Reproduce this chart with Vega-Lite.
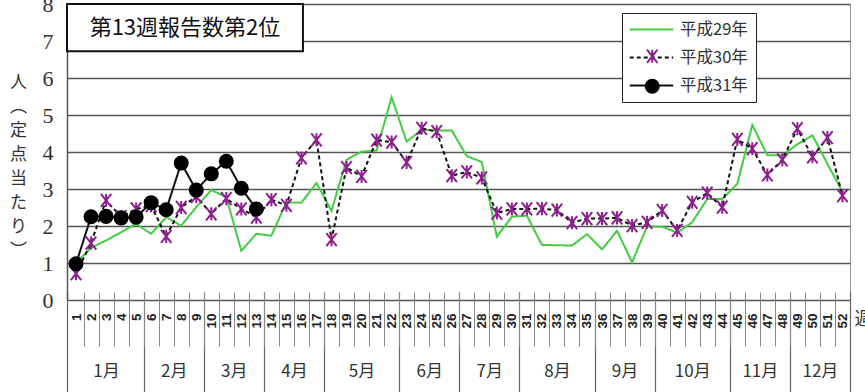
{
  "$schema": "https://vega.github.io/schema/vega-lite/v6.json",
  "width": 783,
  "height": 296,
  "autosize": "none",
  "padding": {"left": 67, "top": 4, "right": 15, "bottom": 92},
  "background": "white",
  "config": {"view": {"stroke": "#999", "strokeWidth": 1}, "font": "Noto Sans CJK JP",
    "axisY": {"values": [0,1,2,3,4,5,6,7,8], "grid": true, "gridColor": "#555", "gridWidth": 1.5, "domain": true, "domainColor": "#555", "domainWidth": 1.5, "ticks": false, "labelPadding": 14, "labelFont": "Liberation Sans Narrow", "labelFontSize": 22, "labelColor": "#333", "labelOverlap": false, "titleAngle": 0, "titleFont": "Noto Sans CJK JP", "titleFontSize": 17, "titleFontWeight": "normal", "titleColor": "#333", "titleLineHeight": 24, "titleX": -49, "titleY": 70, "titleAlign": "center", "titleBaseline": "top"}},
  "data": {"values": [
    {"week": 1, "year": "平成29年", "value": 1.0}, {"week": 2, "year": "平成29年", "value": 1.41}, {"week": 3, "year": "平成29年", "value": 1.61}, {"week": 4, "year": "平成29年", "value": 1.83}, {"week": 5, "year": "平成29年", "value": 2.06}, {"week": 6, "year": "平成29年", "value": 1.79}, {"week": 7, "year": "平成29年", "value": 2.24}, {"week": 8, "year": "平成29年", "value": 2.01}, {"week": 9, "year": "平成29年", "value": 2.51}, {"week": 10, "year": "平成29年", "value": 2.97}, {"week": 11, "year": "平成29年", "value": 2.78}, {"week": 12, "year": "平成29年", "value": 1.33}, {"week": 13, "year": "平成29年", "value": 1.79}, {"week": 14, "year": "平成29年", "value": 1.74}, {"week": 15, "year": "平成29年", "value": 2.64}, {"week": 16, "year": "平成29年", "value": 2.63}, {"week": 17, "year": "平成29年", "value": 3.16}, {"week": 18, "year": "平成29年", "value": 2.41}, {"week": 19, "year": "平成29年", "value": 3.79}, {"week": 20, "year": "平成29年", "value": 4.01}, {"week": 21, "year": "平成29年", "value": 4.04}, {"week": 22, "year": "平成29年", "value": 5.48}, {"week": 23, "year": "平成29年", "value": 4.28}, {"week": 24, "year": "平成29年", "value": 4.6}, {"week": 25, "year": "平成29年", "value": 4.58}, {"week": 26, "year": "平成29年", "value": 4.58}, {"week": 27, "year": "平成29年", "value": 3.89}, {"week": 28, "year": "平成29年", "value": 3.73}, {"week": 29, "year": "平成29年", "value": 1.71}, {"week": 30, "year": "平成29年", "value": 2.25}, {"week": 31, "year": "平成29年", "value": 2.28}, {"week": 32, "year": "平成29年", "value": 1.49}, {"week": 33, "year": "平成29年", "value": 1.48}, {"week": 34, "year": "平成29年", "value": 1.47}, {"week": 35, "year": "平成29年", "value": 1.78}, {"week": 36, "year": "平成29年", "value": 1.37}, {"week": 37, "year": "平成29年", "value": 1.87}, {"week": 38, "year": "平成29年", "value": 1.02}, {"week": 39, "year": "平成29年", "value": 1.99}, {"week": 40, "year": "平成29年", "value": 1.98}, {"week": 41, "year": "平成29年", "value": 1.82}, {"week": 42, "year": "平成29年", "value": 2.1}, {"week": 43, "year": "平成29年", "value": 2.73}, {"week": 44, "year": "平成29年", "value": 2.73}, {"week": 45, "year": "平成29年", "value": 3.14}, {"week": 46, "year": "平成29年", "value": 4.73}, {"week": 47, "year": "平成29年", "value": 3.91}, {"week": 48, "year": "平成29年", "value": 3.91}, {"week": 49, "year": "平成29年", "value": 4.21}, {"week": 50, "year": "平成29年", "value": 4.45}, {"week": 51, "year": "平成29年", "value": 3.68}, {"week": 52, "year": "平成29年", "value": 2.92},
    {"week": 1, "year": "平成30年", "value": 0.71}, {"week": 2, "year": "平成30年", "value": 1.54}, {"week": 3, "year": "平成30年", "value": 2.69}, {"week": 4, "year": "平成30年", "value": 2.25}, {"week": 5, "year": "平成30年", "value": 2.46}, {"week": 6, "year": "平成30年", "value": 2.55}, {"week": 7, "year": "平成30年", "value": 1.72}, {"week": 8, "year": "平成30年", "value": 2.5}, {"week": 9, "year": "平成30年", "value": 2.8}, {"week": 10, "year": "平成30年", "value": 2.33}, {"week": 11, "year": "平成30年", "value": 2.74}, {"week": 12, "year": "平成30年", "value": 2.46}, {"week": 13, "year": "平成30年", "value": 2.24}, {"week": 14, "year": "平成30年", "value": 2.71}, {"week": 15, "year": "平成30年", "value": 2.56}, {"week": 16, "year": "平成30年", "value": 3.84}, {"week": 17, "year": "平成30年", "value": 4.33}, {"week": 18, "year": "平成30年", "value": 1.63}, {"week": 19, "year": "平成30年", "value": 3.58}, {"week": 20, "year": "平成30年", "value": 3.34}, {"week": 21, "year": "平成30年", "value": 4.32}, {"week": 22, "year": "平成30年", "value": 4.27}, {"week": 23, "year": "平成30年", "value": 3.72}, {"week": 24, "year": "平成30年", "value": 4.64}, {"week": 25, "year": "平成30年", "value": 4.55}, {"week": 26, "year": "平成30年", "value": 3.36}, {"week": 27, "year": "平成30年", "value": 3.46}, {"week": 28, "year": "平成30年", "value": 3.3}, {"week": 29, "year": "平成30年", "value": 2.35}, {"week": 30, "year": "平成30年", "value": 2.46}, {"week": 31, "year": "平成30年", "value": 2.46}, {"week": 32, "year": "平成30年", "value": 2.47}, {"week": 33, "year": "平成30年", "value": 2.43}, {"week": 34, "year": "平成30年", "value": 2.09}, {"week": 35, "year": "平成30年", "value": 2.2}, {"week": 36, "year": "平成30年", "value": 2.2}, {"week": 37, "year": "平成30年", "value": 2.22}, {"week": 38, "year": "平成30年", "value": 2.01}, {"week": 39, "year": "平成30年", "value": 2.1}, {"week": 40, "year": "平成30年", "value": 2.42}, {"week": 41, "year": "平成30年", "value": 1.88}, {"week": 42, "year": "平成30年", "value": 2.64}, {"week": 43, "year": "平成30年", "value": 2.89}, {"week": 44, "year": "平成30年", "value": 2.51}, {"week": 45, "year": "平成30年", "value": 4.34}, {"week": 46, "year": "平成30年", "value": 4.09}, {"week": 47, "year": "平成30年", "value": 3.38}, {"week": 48, "year": "平成30年", "value": 3.79}, {"week": 49, "year": "平成30年", "value": 4.63}, {"week": 50, "year": "平成30年", "value": 3.87}, {"week": 51, "year": "平成30年", "value": 4.39}, {"week": 52, "year": "平成30年", "value": 2.82},
    {"week": 1, "year": "平成31年", "value": 0.98}, {"week": 2, "year": "平成31年", "value": 2.25}, {"week": 3, "year": "平成31年", "value": 2.26}, {"week": 4, "year": "平成31年", "value": 2.22}, {"week": 5, "year": "平成31年", "value": 2.24}, {"week": 6, "year": "平成31年", "value": 2.63}, {"week": 7, "year": "平成31年", "value": 2.44}, {"week": 8, "year": "平成31年", "value": 3.7}, {"week": 9, "year": "平成31年", "value": 2.97}, {"week": 10, "year": "平成31年", "value": 3.41}, {"week": 11, "year": "平成31年", "value": 3.75}, {"week": 12, "year": "平成31年", "value": 3.02}, {"week": 13, "year": "平成31年", "value": 2.46}
  ]},
  "resolve": {"axis": {"x": "independent"}},
  "layer": [
    {
      "data": {"values": [{"label": "第13週報告数第2位"}]},
      "mark": {"type": "rect", "fill": "white", "stroke": "#111", "strokeWidth": 2},
      "encoding": {
        "x": {"datum": 0.4, "type": "quantitative", "scale": {"domain": [0.4, 52.5], "nice": false, "zero": false},
          "axis": {"orient": "bottom", "values": [0.4, 5.5, 9.5, 13.5, 17.5, 22.5, 26.5, 30.5, 35.5, 39.5, 44.5, 48.5, 52.5], "labels": false, "domain": false, "grid": false, "ticks": true, "tickSize": 110, "tickColor": "#666", "tickWidth": 1.2, "offset": -8, "title": null}},
        "x2": {"datum": 16.1},
        "y": {"datum": 8, "type": "quantitative", "scale": {"domain": [0, 8], "nice": false}, "axis": {"title": ["人", "︵", "定", "点", "当", "た", "り", "︶"]}},
        "y2": {"datum": 6.72}
      }
    },
    {
      "data": {"values": [{"label": "第13週報告数第2位"}]},
      "mark": {"type": "text", "fontSize": 22, "font": "Noto Sans CJK JP", "color": "#111"},
      "encoding": {
        "x": {"datum": 8.25, "type": "quantitative",
          "axis": {"orient": "bottom", "values": [3, 7.5, 11.5, 15.5, 20, 24.5, 28.5, 33, 37.5, 42, 46.5, 50.5], "labelExpr": "['1月','2月','3月','4月','5月','6月','7月','8月','9月','10月','11月','12月'][indexof([3,7.5,11.5,15.5,20,24.5,28.5,33,37.5,42,46.5,50.5], datum.value)]", "labelPadding": 63, "ticks": false, "domain": false, "grid": false, "labelFont": "Noto Sans CJK JP", "labelFontSize": 17, "labelColor": "#333", "labelOverlap": false, "labelFlush": false, "title": null}},
        "y": {"datum": 7.36, "type": "quantitative", "axis": {"title": ["人", "︵", "定", "点", "当", "た", "り", "︶"]}},
        "text": {"field": "label", "type": "nominal"}
      }
    },
    {
      "mark": {"type": "line", "strokeWidth": 2},
      "encoding": {
        "x": {"field": "week", "type": "quantitative", "scale": {"domain": [0.4, 52.5], "nice": false, "zero": false},
          "axis": {"orient": "bottom", "values": [1,2,3,4,5,6,7,8,9,10,11,12,13,14,15,16,17,18,19,20,21,22,23,24,25,26,27,28,29,30,31,32,33,34,35,36,37,38,39,40,41,42,43,44,45,46,47,48,49,50,51,52], "format": "d", "labelAngle": -90, "labelAlign": "right", "labelBaseline": "middle", "labelPadding": 13, "labelFont": "Liberation Sans", "labelFontWeight": "bold", "labelFontSize": 13.5, "labelColor": "#222", "ticks": false, "domain": false, "grid": false, "labelOverlap": false, "labelFlush": false, "labelBound": false, "title": "週", "titleX": 787, "titleY": 10, "titleAlign": "left", "titleBaseline": "top", "titleFont": "Noto Sans CJK JP", "titleFontSize": 18, "titleFontWeight": "normal", "titleColor": "#333"}},
        "y": {"field": "value", "type": "quantitative", "scale": {"domain": [0, 8], "nice": false}, "axis": {"title": ["人", "︵", "定", "点", "当", "た", "り", "︶"]}},
        "color": {"field": "year", "type": "nominal", "scale": {"domain": ["平成29年", "平成30年", "平成31年"], "range": ["#44cc44", "#111111", "#111111"]},
          "legend": {"title": null, "orient": "none", "legendX": 555, "legendY": 9, "direction": "vertical", "strokeColor": "#222", "fillColor": "white", "padding": 8, "symbolType": "M-2.9,0H2.9", "symbolSize": 225, "symbolStrokeWidth": 2, "symbolOffset": 13, "labelOffset": 20, "labelFont": "Noto Sans CJK JP", "labelFontSize": 16.5, "labelColor": "#333", "rowPadding": 11, "labelLimit": 200}},
        "strokeDash": {"field": "year", "type": "nominal", "scale": {"domain": ["平成29年", "平成30年", "平成31年"], "range": [[1, 0], [4, 3], [1, 0]]}}
      }
    },
    {
      "mark": {"type": "point", "filled": true, "size": 170, "strokeWidth": 2, "opacity": 1},
      "encoding": {
        "x": {"field": "week", "type": "quantitative",
          "axis": {"orient": "bottom", "values": [1.5,2.5,3.5,4.5,5.5,6.5,7.5,8.5,9.5,10.5,11.5,12.5,13.5,14.5,15.5,16.5,17.5,18.5,19.5,20.5,21.5,22.5,23.5,24.5,25.5,26.5,27.5,28.5,29.5,30.5,31.5,32.5,33.5,34.5,35.5,36.5,37.5,38.5,39.5,40.5,41.5,42.5,43.5,44.5,45.5,46.5,47.5,48.5,49.5,50.5,51.5], "labels": false, "domain": false, "grid": false, "ticks": true, "tickSize": 54, "tickColor": "#888", "tickWidth": 1, "offset": -8, "title": null}},
        "y": {"field": "value", "type": "quantitative", "axis": {"title": ["人", "︵", "定", "点", "当", "た", "り", "︶"]}},
        "shape": {"field": "year", "type": "nominal", "scale": {"range": ["circle", "M-0.8,-1L0.8,1M-0.8,1L0.8,-1M0,-1V1", "circle"]},
          "legend": {"title": null, "orient": "none", "legendX": 555, "legendY": 6, "direction": "vertical", "padding": 8, "symbolSize": 170, "symbolStrokeWidth": 2, "symbolOffset": 14, "labelOffset": 20, "labelFont": "Noto Sans CJK JP", "labelFontSize": 16.5, "labelExpr": "' '", "rowPadding": 8, "labelLimit": 200}},
        "fill": {"field": "year", "type": "nominal", "scale": {"range": ["transparent", "transparent", "#000000"]}},
        "stroke": {"field": "year", "type": "nominal", "scale": {"range": ["transparent", "#8e1f8e", "#000000"]}}
      }
    }
  ]
}
